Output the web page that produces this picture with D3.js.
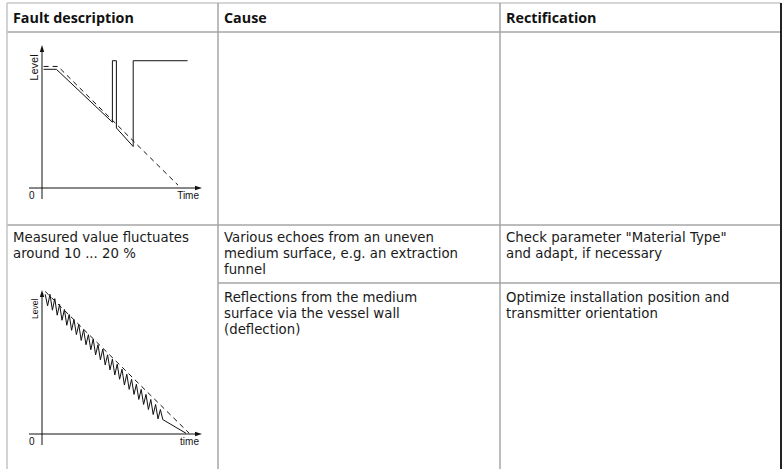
<!DOCTYPE html>
<html>
<head>
<meta charset="utf-8">
<script src="https://cdn.jsdelivr.net/npm/d3@7"></script>
<style>
  body { margin: 0; background: #fff; }
  svg { display: block; }
</style>
</head>
<body>
<svg id="sheet" width="783" height="469"></svg>
<script>
// table content
const headers = ["Fault description", "Cause", "Rectification"];
const faultText = ["Measured value fluctuates", "around 10 ... 20 %"];
const causes = [
    ["Various echoes from an uneven", "medium surface, e.g. an extraction", "funnel"],
    ["Reflections from the medium", "surface via the vessel wall", "(deflection)"]
];
const fixes = [
    ["Check parameter \"Material Type\"", "and adapt, if necessary"],
    ["Optimize installation position and", "transmitter orientation"]
];

// chart 1: level drops, echo jumps up (time, level)
const jumpSolid = [[1, 83], [9, 83], [44, 46], [44, 89], [46.5, 89], [46.5, 42], [57, 29], [57, 89], [91, 89]];
const jumpDashed = [[1, 85], [10, 85], [85, 2]];

// chart 2: fluctuating level (time, level)
const fluctSolid = [
    [2, 97], [3.5, 89], [5, 97], [6.5, 86], [8, 94], [9.5, 82.5], [11, 90], [12.5, 79],
    [14, 86.5], [15.5, 75.5], [17, 83], [18.5, 72], [20, 79.5], [21.5, 69], [23, 76],
    [24.5, 65], [26, 72.5], [27.5, 62], [29, 69], [30.5, 58.5], [32, 66], [33.5, 55],
    [35, 62], [36.5, 51.5], [38, 59], [39.5, 48], [41, 55], [42.5, 44.5], [44, 52],
    [45.5, 41], [47, 48.5], [48.5, 38], [50, 45], [51.5, 34], [53, 41.5], [54.5, 31],
    [56, 38], [57.5, 27.5], [59, 34.5], [60.5, 24], [62, 31], [63.5, 20.5], [65, 27.5],
    [66.5, 17], [68, 24], [69.5, 13.5], [71, 20.5], [72.5, 10.5], [74, 17], [75.5, 10],
    [90, 0.5]
];
const fluctDashed = [[2, 99], [92, 0.5]];

const svg = d3.select("#sheet");
const bodyFont = "'DejaVu Sans', Verdana, sans-serif";
const headFont = "'Open Sans', 'Noto Sans', sans-serif";
const grid = "#a6a6a6";

// column edges and row edges
const colX = [7, 218, 500, 781];
const rowY = [3, 32, 225, 283];

// borders
svg.append("line").attr("x1", colX[0]).attr("x2", colX[3]).attr("y1", rowY[0]).attr("y2", rowY[0])
    .attr("stroke", "#c8c8c8").attr("stroke-width", 1.5);
[rowY[1], rowY[2]].forEach(y => {
    svg.append("line").attr("x1", colX[0]).attr("x2", colX[3]).attr("y1", y).attr("y2", y)
        .attr("stroke", grid).attr("stroke-width", 1.5);
});
svg.append("line").attr("x1", colX[1]).attr("x2", colX[3]).attr("y1", rowY[3]).attr("y2", rowY[3])
    .attr("stroke", grid).attr("stroke-width", 1.5);
svg.append("line").attr("x1", colX[0]).attr("x2", colX[0]).attr("y1", rowY[0]).attr("y2", 469)
    .attr("stroke", "#c4c4c4").attr("stroke-width", 1.5);
[colX[1], colX[2]].forEach(x => {
    svg.append("line").attr("x1", x).attr("x2", x).attr("y1", rowY[0]).attr("y2", 469)
        .attr("stroke", grid).attr("stroke-width", 1.5);
});
svg.append("line").attr("x1", colX[3]).attr("x2", colX[3]).attr("y1", rowY[0]).attr("y2", 469)
    .attr("stroke", "#222").attr("stroke-width", 2);

// header text
svg.selectAll(".hdr")
    .data(headers)
    .enter()
    .append("text")
    .attr("class", "hdr")
    .attr("x", (d, i) => colX[i] + 6)
    .attr("y", 23)
    .attr("font-family", headFont)
    .attr("font-weight", "bold")
    .attr("font-size", 14.3)
    .attr("fill", "#111")
    .text(d => d);

function block(lines, x, y) {
    svg.append("g")
        .selectAll("text")
        .data(lines)
        .enter()
        .append("text")
        .attr("font-family", bodyFont)
        .attr("font-size", 13.3)
        .attr("fill", "#1a1a1a")
        .attr("x", x)
        .attr("y", (d, i) => y + i * 15.8)
        .text(d => d);
}

block(faultText, colX[0] + 6, 242);
block(causes[0], colX[1] + 6, 242);
block(causes[1], colX[1] + 6, 302);
block(fixes[0], colX[2] + 6, 242);
block(fixes[1], colX[2] + 6, 302);

// small level/time diagram
function diagram(top, axisY, solid, dashed, timeLabel, labelSize) {
    const x = d3.scaleLinear().domain([0, 100]).range([42, 202]);
    const y = d3.scaleLinear().domain([0, 100]).range([axisY, top]);
    const g = svg.append("g");
    const line = d3.line().x(d => x(d[0])).y(d => y(d[1]));
    const small = "'Liberation Sans', Arial, sans-serif";

    // axes
    g.append("line").attr("x1", x(0)).attr("x2", x(0)).attr("y1", y(0) + 11).attr("y2", y(100) + 5)
        .attr("stroke", "#111").attr("stroke-width", 1);
    g.append("line").attr("x1", 29).attr("x2", x(100) - 5).attr("y1", y(0)).attr("y2", y(0))
        .attr("stroke", "#111").attr("stroke-width", 1);
    g.append("path")
        .attr("d", `M${x(0)},${y(100)} l-2.2,7 l4.4,0 Z`)
        .attr("fill", "#111");
    g.append("path")
        .attr("d", `M${x(100)},${y(0)} l-7,-2.2 l0,4.4 Z`)
        .attr("fill", "#111");

    g.append("text").attr("x", 29).attr("y", y(0) + 11)
        .attr("font-family", small).attr("font-size", 10)
        .attr("fill", "#111").text("0");
    g.append("text").attr("x", x(100) - 3).attr("y", y(0) + 11).attr("text-anchor", "end")
        .attr("font-family", small).attr("font-size", 10)
        .attr("fill", "#111").text(timeLabel);
    g.append("text")
        .attr("transform", `translate(${x(0) - 4},${y(100) + 6 + labelSize * 1.5}) rotate(-90)`)
        .attr("text-anchor", "middle")
        .attr("font-family", small).attr("font-size", labelSize)
        .attr("fill", "#111").text("Level");

    g.append("path").attr("d", line(dashed)).attr("fill", "none")
        .attr("stroke", "#111").attr("stroke-width", 1).attr("stroke-dasharray", "5,4");
    g.append("path").attr("d", line(solid)).attr("fill", "none")
        .attr("stroke", "#111").attr("stroke-width", 1);
}

diagram(45, 188, jumpSolid, jumpDashed, "Time", 11);
diagram(290, 434, fluctSolid, fluctDashed, "time", 8.5);
</script>
</body>
</html>
